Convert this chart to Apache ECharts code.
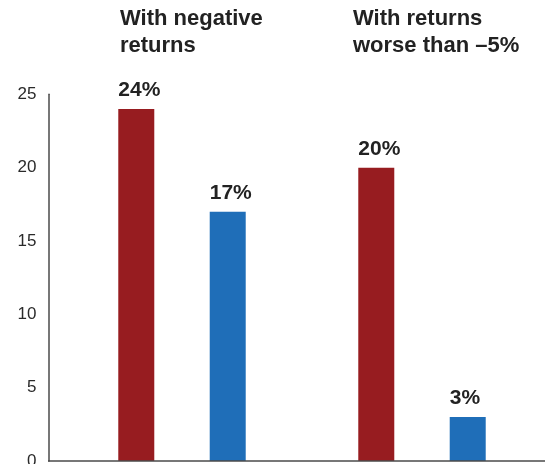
<!DOCTYPE html>
<html>
<head>
<meta charset="utf-8">
<script src="https://cdn.jsdelivr.net/npm/echarts@6/dist/echarts.min.js"></script>
<style>
  html, body { margin: 0; padding: 0; background: #fff; }
  #chart { width: 545px; height: 464px; }
</style>
</head>
<body>
<div id="chart"></div>
<script>
// ---- data ----
const categories = ['With negative\nreturns', 'With returns\nworse than \u20135%'];
const redSeriesName = 'Group A';
const blueSeriesName = 'Group B';
const redValues = [24, 20];
const blueValues = [17, 3];
const yMin = 0;
const yMax = 25;
const yStep = 5;

// ---- styling ----
const FONT = "'Liberation Sans', Arial, Helvetica, sans-serif";
const RED = '#971C20';
const BLUE = '#1F6EB8';
const AXIS = '#4a4a4a';
const titleLefts = [120, 353];

const chart = echarts.init(document.getElementById('chart'), null, { renderer: 'canvas' });

const labelCfg = {
  show: true,
  position: 'top',
  distance: 8,
  align: 'left',
  offset: [-18, 0],
  formatter: '{c}%',
  fontSize: 21,
  fontWeight: 'bold',
  fontFamily: FONT,
  color: '#222'
};

chart.setOption({
  animation: false,
  backgroundColor: '#fff',
  title: categories.map((t, i) => ({
    text: t,
    left: titleLefts[i],
    top: 6,
    padding: 0,
    textStyle: { fontSize: 22, fontWeight: 'bold', lineHeight: 26.7, color: '#222', fontFamily: FONT }
  })),
  grid: { left: 62, right: 3, top: 94.3, bottom: 3, containLabel: false, outerBoundsMode: 'none' },
  xAxis: {
    type: 'category',
    data: categories,
    axisLine: { show: false },
    axisTick: { show: false },
    axisLabel: { show: false },
    splitLine: { show: false }
  },
  yAxis: {
    type: 'value',
    min: yMin,
    max: yMax,
    interval: yStep,
    offset: 13.5,
    axisLine: { show: true, lineStyle: { color: AXIS, width: 1.5 } },
    axisTick: { show: false },
    splitLine: { show: false },
    axisLabel: { margin: 12, fontSize: 17, color: '#2a2a2a', fontFamily: FONT, padding: [3, 0, 0, 0] }
  },
  graphic: [{
    type: 'line',
    shape: { x1: 48, y1: 461, x2: 545, y2: 461 },
    style: { stroke: AXIS, lineWidth: 1.5 },
    z: 10
  }],
  series: [
    {
      name: redSeriesName,
      type: 'bar',
      data: redValues,
      barWidth: 36,
      barGap: '154%',
      itemStyle: { color: RED },
      label: labelCfg
    },
    {
      name: blueSeriesName,
      type: 'bar',
      data: blueValues,
      barWidth: 36,
      barGap: '154%',
      itemStyle: { color: BLUE },
      label: labelCfg
    }
  ]
});
</script>
</body>
</html>
